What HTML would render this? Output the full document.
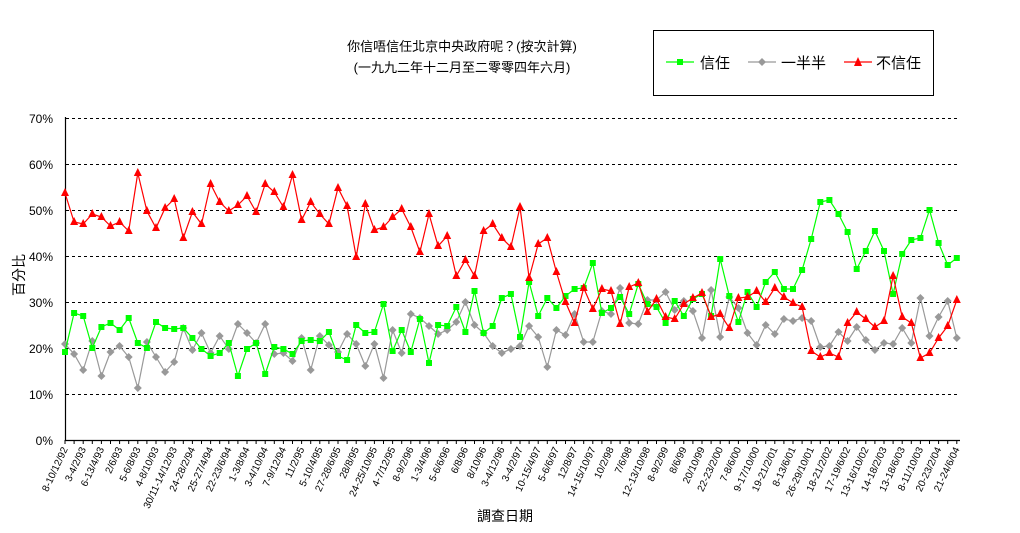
<!DOCTYPE html>
<html><head><meta charset="utf-8"><style>
html,body{margin:0;padding:0;background:#fff;}
svg{display:block;font-family:"Liberation Sans","Noto Sans CJK TC","WenQuanYi Zen Hei",sans-serif;}
</style></head><body>
<svg id="c" width="1020" height="533" viewBox="0 0 1020 533" xmlns="http://www.w3.org/2000/svg">
<rect width="1020" height="533" fill="#fff"/>
<text x="462" y="51" font-size="13" text-anchor="middle">你信唔信任北京中央政府呢？(按次計算)</text>
<text x="462" y="72" font-size="13" text-anchor="middle">(一九九二年十二月至二零零四年六月)</text>
<rect x="653.5" y="30.5" width="280" height="65" fill="#fff" stroke="#000" stroke-width="1"/>
<line x1="666" y1="62" x2="694" y2="62" stroke="#00ff00" stroke-width="1.2"/><rect x="677" y="59" width="6" height="6" fill="#00ff00"/>
<text x="700" y="68" font-size="15">信任</text>
<line x1="748" y1="62" x2="776" y2="62" stroke="#999" stroke-width="1.2"/><polygon points="762,58 766,62 762,66 758,62" fill="#999"/>
<text x="781" y="68" font-size="15">一半半</text>
<line x1="844" y1="62" x2="872" y2="62" stroke="#ff0000" stroke-width="1.2"/><polygon points="858,57 862,66 854,66" fill="#ff0000"/>
<text x="876" y="68" font-size="15">不信任</text>
<text transform="translate(24,275) rotate(-90)" font-size="14" text-anchor="middle">百分比</text>
<text x="505" y="521" font-size="14" text-anchor="middle">調查日期</text>
<g id="grid"></g>
<g id="series"></g>
</svg>
<script>
const NS="http://www.w3.org/2000/svg";
const svg=document.getElementById('c'),g=document.getElementById('grid'),s=document.getElementById('series');
function el(t,a,p,txt){const e=document.createElementNS(NS,t);for(const k in a)e.setAttribute(k,a[k]);if(txt!==undefined)e.textContent=txt;(p||g).appendChild(e);return e;}
const X0=65,DX=9.1,N=99;
for(let k=1;k<=7;k++){const y=440-k*46;el('line',{x1:66,y1:y+.5,x2:960,y2:y+.5,stroke:'#000','stroke-dasharray':'3,3','stroke-width':1});}
for(let k=0;k<=7;k++){const y=440-k*46;el('text',{x:53,y:y+5,'font-size':12,'text-anchor':'end'},g,(k*10)+'%');}
el('line',{x1:65.5,y1:117,x2:65.5,y2:441,stroke:'#000','stroke-width':1.2});
el('line',{x1:65,y1:440.5,x2:960,y2:440.5,stroke:'#000','stroke-width':1.2});
for(let i=0;i<N;i++){const x=X0+DX*i;el('line',{x1:x,y1:440,x2:x,y2:444,stroke:'#000','stroke-width':1});}
const labels=["8-10/12/92","3-4/2/93","6-13/4/93","2/6/93","5-6/8/93","4-8/10/93","30/11-14/12/93","24-28/2/94","25-27/4/94","22-23/6/94","1-3/8/94","3-4/10/94","7-9/12/94","11/2/95","5-10/4/95","27-28/6/95","28/8/95","24-25/10/95","4-7/12/95","8-9/2/96","1-3/4/96","5-6/6/96","6/8/96","8/10/96","3-4/12/96","3-4/2/97","10-15/4/97","5-6/6/97","12/8/97","14-15/10/97","10/2/98","7/6/98","12-13/10/98","8-9/2/99","8/6/99","20/10/99","22-23/2/00","7-8/6/00","9-17/10/00","19-21/2/01","8-13/6/01","26-29/10/01","18-21/2/02","17-19/6/02","13-16/10/02","14-18/2/03","13-18/6/03","8-11/10/03","20-23/2/04","21-24/6/04"];
labels.forEach((l,j)=>{const x=X0+DX*2*j+3;el('text',{transform:`translate(${x},449) rotate(-65)`,'font-size':10,'text-anchor':'end'},g,l);});
const red=[193,222,224,214,217,226,222,231,173,211,228,208,199,238,212,224,184,202,211,205,196,212,184,192,207,175,220,202,214,224,188,206,257,204,230,227,217,209,227,252,214,246,236,276,260,276,231,224,238,247,207,278,244,238,272,302,323,288,309,289,291,324,287,283,312,299,317,319,304,298,293,317,314,328,298,297,291,302,288,297,303,307,351,357,353,357,323,312,319,327,321,276,317,323,358,353,338,326,300];
const green=[352,313,316,348,327,323,330,318,343,348,322,328,329,328,338,349,356,353,343,376,349,343,374,347,349,354,341,340,341,332,356,360,325,333,332,304,351,330,352,319,363,325,326,307,332,291,333,326,298,294,337,282,316,298,308,296,289,288,263,313,308,297,314,284,304,307,323,301,316,299,294,316,259,296,322,292,307,282,272,289,289,270,239,202,200,214,232,269,251,231,251,294,254,240,238,210,243,265,258];
const grey=[344,354,370,341,376,352,346,357,388,342,357,372,362,328,350,333,353,336,349,324,333,343,324,354,353,361,338,370,336,345,352,334,344,366,344,378,330,353,314,318,326,334,330,322,302,325,333,346,353,349,346,326,337,367,330,335,314,342,342,311,314,288,323,324,300,300,292,310,301,311,338,290,337,297,308,333,345,325,334,319,321,318,321,347,346,332,341,327,340,350,343,344,328,343,298,336,317,301,338];
function series(d,col,mk){const pts=d.map((y,i)=>(X0+DX*i).toFixed(1)+','+y).join(' ');
el('polyline',{points:pts,fill:'none',stroke:col,'stroke-width':1.2},s);
d.forEach((y,i)=>{const x=X0+DX*i;
if(mk==='sq')el('rect',{x:x-3,y:y-3,width:6,height:6,fill:col},s);
else if(mk==='dm')el('polygon',{points:`${x},${y-4} ${x+4},${y} ${x},${y+4} ${x-4},${y}`,fill:col},s);
else el('polygon',{points:`${x},${y-5} ${x+4},${y+3} ${x-4},${y+3}`,fill:col},s);});}
series(grey,'#999999','dm');
series(green,'#00ff00','sq');
series(red,'#ff0000','tr');
</script>
</body></html>
